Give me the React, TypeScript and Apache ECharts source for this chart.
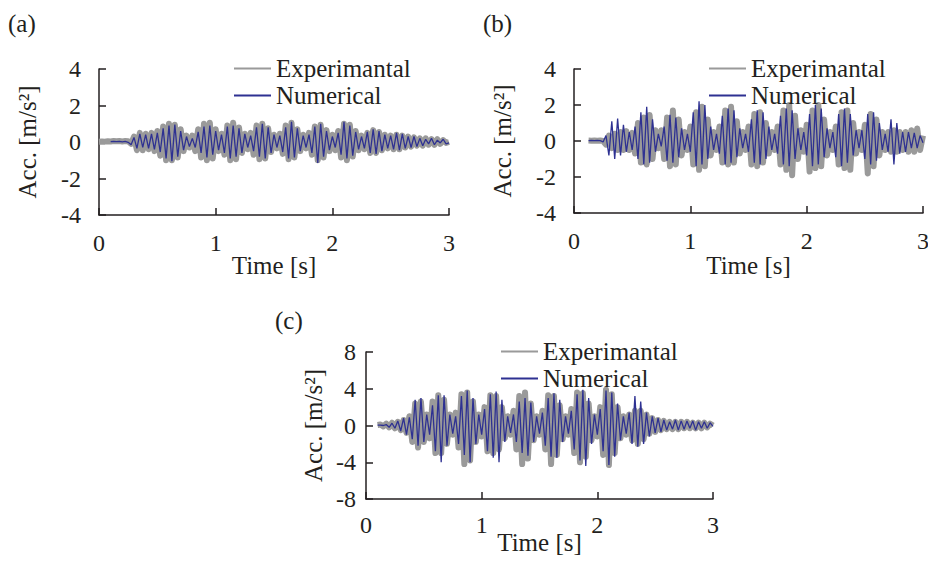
import React, { useEffect, useRef } from "react";
import * as echarts from "echarts";

// sampling step of the recorded signals [s]; index i -> time i * DT
const DT = 0.025;
const X_TICKS = [0, 1, 2, 3];
const SERIES_NAMES = ["Experimantal", "Numerical"];
const PANEL_LABELS = ["(a)", "(b)", "(c)"];

// (a)
const A_EXP = [
  0.02, 0.03, 0.02, 0.04, 0.03, 0.05, 0.04, 0.05, 0.03, 0.05,
  0.04, -0.1, 0.3, -0.45, 0.5, -0.45, 0.45, -0.4, 0.5, -0.5,
  0.6, -0.75, 0.85, -1.0, 1.0, -1.0, 0.95, -0.85, 0.7, -0.5,
  0.35, -0.3, 0.35, -0.5, 0.7, -0.85, 1.0, -1.0, 1.05, -0.9,
  0.7, -0.5, 0.45, -0.7, 0.9, -1.0, 1.05, -0.95, 0.8, -0.6,
  0.45, -0.4, 0.5, -0.7, 0.9, -0.95, 1.0, -0.9, 0.75, -0.55,
  0.4, -0.35, 0.45, -0.65, 0.9, -0.95, 1.05, -0.85, 0.7, -0.5,
  0.4, -0.35, 0.5, -0.7, 0.85, -1.0, 0.95, -0.85, 0.65, -0.5,
  0.4, -0.45, 0.6, -0.85, 1.0, -1.0, 0.95, -0.8, 0.6, -0.45,
  0.35, -0.4, 0.5, -0.6, 0.65, -0.6, 0.55, -0.45, 0.4, -0.35,
  0.35, -0.4, 0.4, -0.4, 0.35, -0.3, 0.3, -0.25, 0.25, -0.2,
  0.2, -0.2, 0.2, -0.15, 0.15, -0.15, 0.15, -0.1, 0.1, -0.05,
  0.0,
];
const A_NUM = [
  null, null, null, null, 0.02, 0.03, 0.02, 0.04, 0.01, 0.03,
  -0.02, -0.15, 0.25, -0.35, 0.45, -0.3, 0.4, -0.35, 0.45, -0.4,
  0.5, -0.55, 0.75, -0.9, 0.9, -1.05, 0.95, -0.8, 0.6, -0.45,
  0.3, -0.25, 0.2, -0.3, 0.55, -0.6, 0.85, -0.85, 0.9, -0.7,
  0.6, -0.45, 0.4, -0.6, 0.85, -0.9, 0.9, -0.8, 0.75, -0.6,
  0.45, -0.3, 0.35, -0.5, 0.8, -0.8, 1.0, -0.9, 0.8, -0.6,
  0.4, -0.3, 0.35, -0.55, 0.8, -0.9, 1.1, -0.85, 0.75, -0.5,
  0.35, -0.3, 0.4, -0.6, 0.85, -1.15, 1.0, -0.8, 0.6, -0.45,
  0.3, -0.3, 0.5, -0.7, 1.1, -0.9, 0.9, -0.75, 0.55, -0.4,
  0.3, -0.35, 0.55, -0.6, 0.7, -0.65, 0.6, -0.5, 0.4, -0.35,
  0.35, -0.4, 0.5, -0.45, 0.45, -0.35, 0.3, -0.3, 0.3, -0.25,
  0.2, -0.2, 0.15, -0.1, 0.2, -0.15, 0.1, -0.05, 0.15, -0.1,
  -0.05,
];

// (b)
const B_EXP = [
  null, null, null, null, null, 0.03, 0.02, 0.03, 0.02, 0.03,
  0.0, -0.2, 0.3, -0.4, 0.4, -0.5, 0.5, -0.5, 0.55, -0.5,
  0.45, -0.7, 1.0, -1.2, 1.3, -1.3, 1.45, -1.0, 0.6, -0.4,
  0.6, -1.0, 1.3, -1.4, 1.7, -1.3, 1.2, -0.8, 0.5, -0.5,
  0.8, -1.3, 1.6, -1.6, 1.9, -1.4, 1.2, -0.8, 0.5, -0.5,
  0.8, -1.2, 1.7, -1.3, 1.9, -1.2, 1.1, -0.7, 0.5, -0.5,
  0.8, -1.3, 1.5, -1.4, 1.6, -1.2, 1.0, -0.7, 0.5, -0.5,
  0.8, -1.3, 1.7, -1.6, 2.0, -1.9, 1.4, -1.0, 0.6, -0.6,
  0.9, -1.7, 1.7, -1.5, 2.0, -1.4, 1.2, -0.8, 0.5, -0.5,
  0.8, -1.3, 1.6, -1.5, 1.7, -1.6, 1.0, -0.7, 0.5, -0.5,
  0.9, -1.8, 1.5, -1.4, 1.2, -0.8, 0.5, -0.5, 0.5, -0.6,
  0.6, -0.6, 0.5, -0.5, 0.5, -0.6, 0.6, -0.6, 0.7, -0.5,
  0.3,
];
const B_NUM = [
  null, null, null, null, null, 0.02, 0.03, 0.02, 0.03, 0.02,
  -0.05, 0.3, -0.8, 1.1, -1.0, 1.25, -0.8, 0.9, -0.6, 0.5,
  -0.5, 0.8, -1.0, 1.6, -1.3, 1.9, -1.2, 1.2, -0.6, 0.4,
  -0.3, 0.8, -1.1, 1.45, -1.2, 1.3, -0.9, 0.7, -0.5, 0.4,
  -0.6, 1.6, -1.4, 2.2, -1.3, 2.0, -1.0, 0.8, -0.5, 0.4,
  -0.7, 1.4, -1.3, 1.8, -1.2, 1.7, -0.9, 0.7, -0.4, 0.4,
  -0.6, 1.2, -1.2, 1.7, -1.3, 1.6, -1.0, 0.8, -0.5, 0.4,
  -0.7, 1.4, -1.3, 1.8, -1.4, 1.7, -1.0, 0.7, -0.5, 0.5,
  -0.8, 1.5, -1.4, 2.0, -1.3, 1.8, -0.9, 0.7, -0.4, 0.5,
  -0.9, 1.5, -1.4, 1.8, -1.2, 1.5, -0.8, 0.6, -0.4, 0.6,
  -1.0, 1.5, -1.3, 1.6, -1.1, 1.0, -0.5, 0.4, -0.6, 1.2,
  -1.3, 1.0, -0.7, 0.5, -0.6, 0.5, -0.4, 0.45, -0.4, 0.3,
  -0.1,
];

// (c)
const C_EXP = [
  null, null, null, null, 0.05, 0.1, -0.1, 0.2, -0.2, 0.3,
  -0.3, 0.4, -0.5, 0.6, -0.8, 1.0, -1.8, 2.4, -2.4, 2.6,
  -1.8, 1.2, -1.4, 2.6, -3.0, 3.3, -3.0, 2.8, -2.0, 1.2,
  -1.0, 1.4, -2.4, 3.4, -4.2, 3.6, -3.8, 2.6, -1.8, 1.2,
  -1.2, 2.0, -2.8, 3.3, -3.0, 3.2, -2.6, 2.0, -1.4, 1.0,
  -1.0, 1.6, -2.6, 3.2, -4.2, 3.6, -3.6, 2.4, -1.6, 1.0,
  -1.0, 1.6, -2.6, 3.3, -4.2, 3.2, -3.2, 2.2, -1.5, 1.0,
  -1.0, 1.8, -3.0, 3.6, -4.0, 3.5, -3.4, 2.4, -1.6, 1.0,
  -1.2, 2.0, -3.2, 3.9, -4.3, 3.4, -3.0, 2.0, -1.4, 1.0,
  -1.0, 1.2, -1.6, 1.6, -2.0, 1.6, -1.5, 1.2, -0.9, 0.8,
  -0.7, 0.6, -0.5, 0.5, -0.4, 0.4, -0.4, 0.4, -0.4, 0.4,
  -0.3, 0.4, -0.3, 0.3, -0.3, 0.3, -0.3, 0.3, -0.2, 0.2,
  0.0,
];
const C_NUM = [
  null, null, null, null, 0.05, 0.05, 0.0, 0.1, -0.2, 0.25,
  -0.3, 0.5, -0.6, 0.8, -1.0, 0.9, -1.5, 2.8, -2.2, 3.0,
  -1.8, 1.2, -1.0, 2.2, -2.8, 3.3, -4.0, 3.3, -2.2, 1.2,
  -0.9, 1.0, -2.0, 3.2, -3.2, 3.8, -4.0, 3.0, -2.0, 1.2,
  -1.0, 1.8, -2.8, 3.4, -3.5, 3.7, -4.0, 2.8, -1.8, 1.0,
  -0.8, 1.2, -1.8, 2.6, -3.0, 3.0, -3.3, 2.5, -1.8, 1.0,
  -0.9, 1.4, -2.2, 3.0, -3.4, 3.5, -3.5, 2.8, -1.8, 1.0,
  -0.9, 1.6, -2.6, 3.4, -3.8, 3.9, -4.4, 3.0, -2.0, 1.2,
  -1.0, 1.8, -2.8, 3.8, -4.3, 3.6, -3.4, 2.4, -1.6, 1.0,
  -0.9, 1.4, -2.0, 3.2, -2.3, 2.6, -2.0, 1.4, -1.2, 1.0,
  -0.8, 0.8, -0.7, 0.6, -0.5, 0.4, -0.4, 0.6, -0.5, 0.5,
  -0.4, 0.5, -0.3, 0.5, -0.5, 0.4, -0.3, 0.4, -0.3, 0.3,
  -0.1,
];

const Y_RANGES = [
  { min: -4, max: 4, interval: 2 },
  { min: -4, max: 4, interval: 2 },
  { min: -8, max: 8, interval: 4 },
];

const FONT = "Liberation Serif";
const INK = "#231f20";
const GRAY = "#9a9a9a";
const BLUE = "#2e3192";

function toPairs(arr: (number | null)[]) {
  const out: [number, number][] = [];
  arr.forEach((v, i) => {
    if (v !== null) out.push([Math.round(i * DT * 1000) / 1000, v]);
  });
  return out;
}

export default function App() {
  const ref = useRef<HTMLDivElement>(null);
  useEffect(() => {
    if (!ref.current) return;
    const chart = echarts.init(ref.current, undefined, { renderer: "svg" });

    const grids = [
      { left: 99, top: 69, width: 350, height: 146 },
      { left: 574, top: 69, width: 349, height: 144 },
      { left: 366, top: 352, width: 347, height: 147 },
    ];
    const xNameGap = [38, 40, 31];
    const xLabelMargin = [16, 16, 14];
    const yLabelMargin = [18, 18, 10];
    const yNameGap = [59, 59, 40];
    const legendPos = [
      { left: 233, top: 55 },
      { left: 708, top: 55 },
      { left: 500, top: 338 },
    ];
    const titlePos = [
      { left: 8, top: 11 },
      { left: 483, top: 11 },
      { left: 275, top: 308 },
    ];
    const data = [
      [A_EXP, A_NUM],
      [B_EXP, B_NUM],
      [C_EXP, C_NUM],
    ];

    const xAxis = grids.map((_, i) => ({
      type: "value",
      gridIndex: i,
      min: X_TICKS[0],
      max: X_TICKS[X_TICKS.length - 1],
      interval: 1,
      name: "Time [s]",
      nameLocation: "middle",
      nameGap: xNameGap[i],
      nameMoveOverlap: false,
      nameTextStyle: { fontFamily: FONT, fontSize: 25, color: INK },
      axisLine: { show: true, onZero: false, lineStyle: { color: INK, width: 1.5 } },
      axisTick: { show: true, inside: true, length: 7, lineStyle: { color: INK, width: 1.5 } },
      axisLabel: { fontFamily: FONT, fontSize: 24, color: INK, margin: xLabelMargin[i] },
      splitLine: { show: false },
    }));
    const yAxis = grids.map((_, i) => ({
      type: "value",
      gridIndex: i,
      min: Y_RANGES[i].min,
      max: Y_RANGES[i].max,
      interval: Y_RANGES[i].interval,
      name: "Acc. [m/s²]",
      nameLocation: "middle",
      nameGap: yNameGap[i],
      nameMoveOverlap: false,
      nameRotate: 90,
      nameTextStyle: { fontFamily: FONT, fontSize: 25, color: INK },
      axisLine: { show: true, onZero: false, lineStyle: { color: INK, width: 1.5 } },
      axisTick: { show: true, inside: true, length: 7, lineStyle: { color: INK, width: 1.5 } },
      axisLabel: { fontFamily: FONT, fontSize: 24, color: INK, margin: yLabelMargin[i] },
      splitLine: { show: false },
    }));

    const series: any[] = [];
    data.forEach((pair, i) => {
      series.push({
        type: "line",
        name: SERIES_NAMES[0],
        xAxisIndex: i,
        yAxisIndex: i,
        data: toPairs(pair[0]),
        symbol: "none",
        showSymbol: false,
        lineStyle: { color: GRAY, width: 6, join: "round" },
        itemStyle: { color: GRAY },
        z: 2,
      });
      series.push({
        type: "line",
        name: SERIES_NAMES[1],
        xAxisIndex: i,
        yAxisIndex: i,
        data: toPairs(pair[1]),
        symbol: "none",
        showSymbol: false,
        lineStyle: { color: BLUE, width: 1.3 },
        itemStyle: { color: BLUE },
        z: 3,
      });
    });

    chart.setOption({
      animation: false,
      backgroundColor: "#ffffff",
      textStyle: { fontFamily: FONT },
      title: PANEL_LABELS.map((t, i) => ({
        text: t,
        left: titlePos[i].left,
        top: titlePos[i].top,
        padding: 0,
        textStyle: { fontFamily: FONT, fontSize: 25, fontWeight: "normal", color: INK },
      })),
      legend: legendPos.map((p) => ({
        data: SERIES_NAMES,
        orient: "vertical",
        left: p.left,
        top: p.top,
        padding: 0,
        itemGap: 0,
        itemWidth: 37,
        itemHeight: 10,
        selectedMode: false,
        itemStyle: { opacity: 0 },
        textStyle: { fontFamily: FONT, fontSize: 25, color: INK, lineHeight: 27 },
      })),
      grid: grids.map((g) => ({ ...g, containLabel: false, outerBoundsMode: "none" })),
      xAxis,
      yAxis,
      series,
    });
    return () => chart.dispose();
  }, []);
  return (
    <div
      ref={ref}
      style={{ position: "fixed", left: 0, top: 0, width: 928, height: 561 }}
    />
  );
}
